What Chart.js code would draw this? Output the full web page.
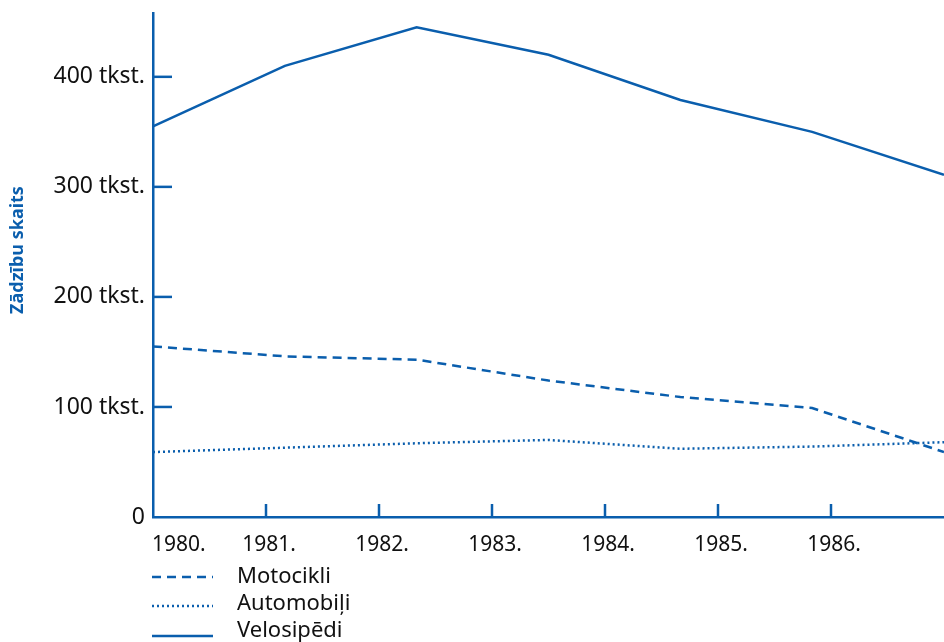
<!DOCTYPE html>
<html>
<head>
<meta charset="utf-8">
<script src="https://cdn.jsdelivr.net/npm/chart.js@4"></script>
<style>
  html, body { margin: 0; padding: 0; background: #fff; }
  #wrap { width: 944px; height: 642px; }
</style>
</head>
<body>
<div id="wrap"><canvas id="theftChart"></canvas></div>
<script>
// --- data ---
const yearTicks = [1980, 1981, 1982, 1983, 1984, 1985, 1986];
// data points sit at 7 equal steps from 1980 to 1987 on the axis
const pointYears = [1980, 1981.167, 1982.333, 1983.5, 1984.667, 1985.833, 1987];
const motocikli = [155, 146, 143, 124, 109, 99, 59];
const automobili = [59, 63, 67, 70, 62, 64, 68];
const velosipedi = [355, 410, 445, 420, 379, 350, 311];
const seriesNames = ['Motocikli', 'Automobiļi', 'Velosipēdi'];

const blue = '#0a5ead';
const ink = '#111111';
const fontFam = '"Noto Sans", "Open Sans", sans-serif';

function pts(vals) { return vals.map((v, i) => ({ x: pointYears[i], y: v })); }

// inward ticks, x labels, axis title and legend
const decorPlugin = {
    id: 'decor',
    afterDraw(chart) {
        const ctx = chart.ctx;
        const xs = chart.scales.x, ys = chart.scales.y;
        const area = chart.chartArea;
        ctx.save();
        ctx.strokeStyle = blue;
        ctx.lineWidth = 2.5;
        // y ticks pointing into the plot
        ys.ticks.forEach(t => {
            if (t.value === 0) return;
            const py = ys.getPixelForValue(t.value);
            ctx.beginPath(); ctx.moveTo(area.left, py); ctx.lineTo(area.left + 19, py); ctx.stroke();
        });
        // x ticks pointing up
        yearTicks.forEach(yr => {
            if (yr === 1980) return;
            const px = xs.getPixelForValue(yr);
            ctx.beginPath(); ctx.moveTo(px, area.bottom); ctx.lineTo(px, area.bottom - 13); ctx.stroke();
        });
        // x labels
        ctx.fillStyle = ink;
        ctx.font = '21px ' + fontFam;
        ctx.textBaseline = 'middle';
        yearTicks.forEach(yr => {
            const px = xs.getPixelForValue(yr);
            ctx.textAlign = yr === 1980 ? 'left' : 'center';
            ctx.fillText(yr + '.', yr === 1980 ? px - 1 : px + 3, area.bottom + 28);
        });
        // y axis title
        ctx.save();
        ctx.translate(18, 250);
        ctx.rotate(-Math.PI / 2);
        ctx.fillStyle = blue;
        ctx.font = 'bold 18px ' + fontFam;
        ctx.textAlign = 'center';
        ctx.fillText('Zādzību skaits', 0, 0);
        ctx.restore();
        // legend
        const rows = [577, 604, 631];
        const sampleY = [577, 606, 636];
        ctx.font = '22px ' + fontFam;
        chart.data.datasets.forEach((ds, i) => {
            ctx.strokeStyle = ds.borderColor;
            ctx.lineWidth = 2.5;
            ctx.setLineDash(ds.borderDash || []);
            ctx.beginPath(); ctx.moveTo(152, sampleY[i]); ctx.lineTo(213, sampleY[i]); ctx.stroke();
            ctx.setLineDash([]);
            ctx.fillStyle = ink;
            ctx.textAlign = 'left';
            ctx.fillText(ds.label, 237, rows[i]);
        });
        ctx.restore();
    }
};

new Chart(document.getElementById('theftChart').getContext('2d'), {
    type: 'line',
    data: {
        datasets: [
            { label: seriesNames[0], data: pts(motocikli), borderColor: blue, borderWidth: 2.5, borderDash: [9, 6], pointRadius: 0, tension: 0 },
            { label: seriesNames[1], data: pts(automobili), borderColor: blue, borderWidth: 2.5, borderDash: [2, 3], pointRadius: 0, tension: 0 },
            { label: seriesNames[2], data: pts(velosipedi), borderColor: blue, borderWidth: 2.5, pointRadius: 0, tension: 0 }
        ]
    },
    options: {
        responsive: true,
        maintainAspectRatio: false,
        animation: false,
        layout: { padding: { top: 13, right: 0, left: 0, bottom: 0 } },
        scales: {
            x: {
                type: 'linear', min: 1980, max: 1987,
                grid: { display: false },
                border: { display: true, color: blue, width: 2.5 },
                ticks: { display: false },
                afterFit: s => { s.height = 125; s.paddingLeft = 0; s.paddingRight = 0; }
            },
            y: {
                min: 0, max: 458,
                grid: { display: false, drawTicks: false },
                border: { display: true, color: blue, width: 2.5 },
                afterBuildTicks: s => { s.ticks = s.ticks.filter(t => t.value % 100 === 0); },
                ticks: {
                    stepSize: 100, padding: 8, color: ink,
                    font: { family: fontFam, size: 23 },
                    callback: v => v === 0 ? '0' : v + ' tkst.'
                },
                afterFit: s => { s.width = 153; s.paddingTop = 0; s.paddingBottom = 0; }
            }
        },
        plugins: { legend: { display: false }, tooltip: { enabled: false } }
    },
    plugins: [decorPlugin]
});
</script>
</body>
</html>
